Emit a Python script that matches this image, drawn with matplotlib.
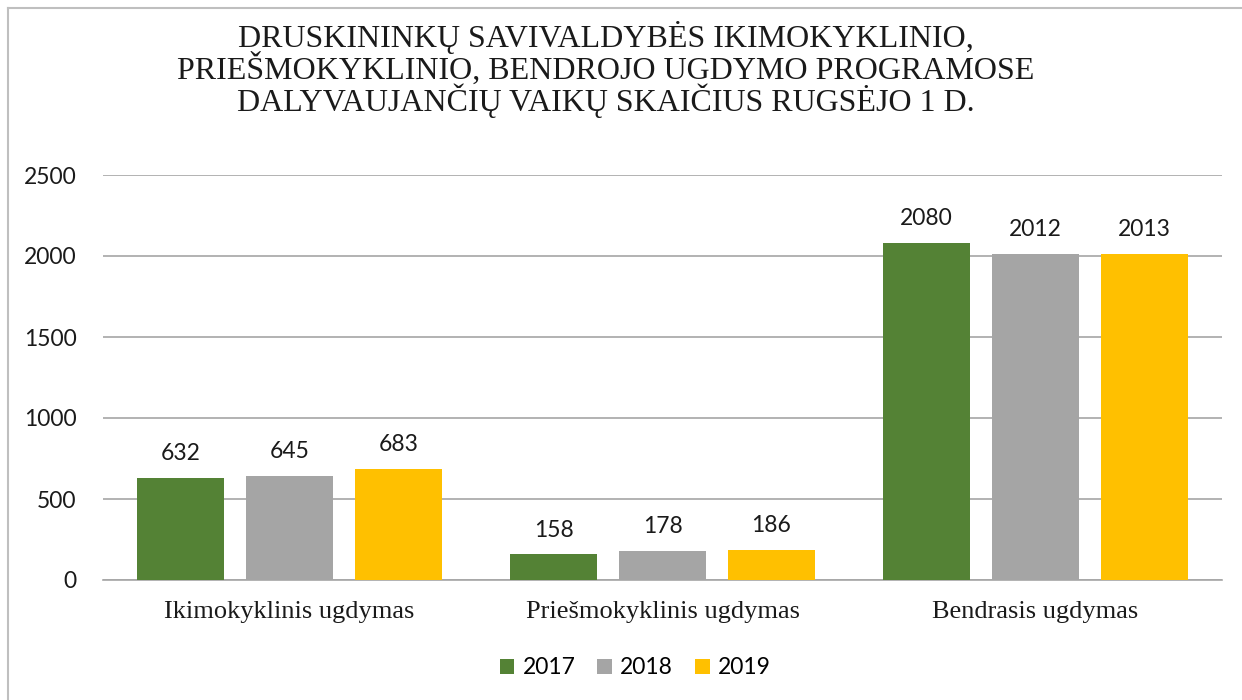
import numpy as np
import matplotlib.pyplot as plt
from matplotlib.patches import Patch
from matplotlib.lines import Line2D

categories = ['Ikimokyklinis ugdymas', 'Priešmokyklinis ugdymas', 'Bendrasis ugdymas']
years = ['2017', '2018', '2019']
v2017 = [632, 158, 2080]
v2018 = [645, 178, 2012]
v2019 = [683, 186, 2013]
colors = ['#548235', '#a5a5a5', '#ffc000']
yticks = [0, 500, 1000, 1500, 2000, 2500]

title_lines = ['DRUSKININKŲ SAVIVALDYBĖS IKIMOKYKLINIO,',
               'PRIEŠMOKYKLINIO, BENDROJO UGDYMO PROGRAMOSE',
               'DALYVAUJANČIŲ VAIKŲ SKAIČIUS RUGSĖJO 1 D.']

sans = 'Lato'
serif = 'Liberation Serif'

fig = plt.figure(figsize=(12.42, 7.0), dpi=100)
ax = fig.add_axes([103 / 1242, 1 - 580 / 700, (1222 - 103) / 1242, (580 - 175) / 700])

x = np.arange(len(categories))
width = 0.233
step = 0.292
for i, (vals, c) in enumerate(zip([v2017, v2018, v2019], colors)):
    bars = ax.bar(x + (i - 1) * step, vals, width, color=c, zorder=3)
    ax.bar_label(bars, padding=10, fontsize=16.5, family=sans, color='#1a1a1a')

ax.set_xlim(-0.5, 2.5)
ax.set_ylim(0, 2500)
ax.set_yticks(yticks)
ax.set_yticklabels([str(t) for t in yticks], family=sans, fontsize=16.5, color='#1a1a1a')
ax.set_xticks(x)
ax.set_xticklabels(categories, family=serif, fontsize=19, color='#1a1a1a')
ax.tick_params(axis='both', length=0)
ax.tick_params(axis='y', pad=19)
ax.tick_params(axis='x', pad=15)
ax.grid(axis='y', color='#a6a6a6', linewidth=1.2, zorder=0)
for s in ['top', 'right', 'left']:
    ax.spines[s].set_visible(False)
ax.spines['bottom'].set_color('#a6a6a6')
ax.spines['bottom'].set_linewidth(1.2)

# title, one line at a time
for line, base in zip(title_lines, [47, 79, 111]):
    fig.text(606 / 1242, 1 - base / 700, line, ha='center', va='baseline',
             family=serif, fontsize=23, color='#1a1a1a')

handles = [Patch(facecolor=c, edgecolor='none') for c in colors]
fig.legend(handles, years, loc='center', bbox_to_anchor=(635 / 1242, 1 - 668 / 700),
           ncol=3, frameon=False, prop={'family': sans, 'size': 16.5},
           handlelength=0.65, handleheight=0.65, handletextpad=0.35, columnspacing=0.95)

# chart border (left and top edges visible)
fig.add_artist(Line2D([7.5 / 1242, 7.5 / 1242], [0, 1 - 8 / 700], color='#bfbfbf', linewidth=1.5))
fig.add_artist(Line2D([7.5 / 1242, 1], [1 - 8 / 700, 1 - 8 / 700], color='#bfbfbf', linewidth=1.5))

fig.savefig('out.png', dpi=100)
